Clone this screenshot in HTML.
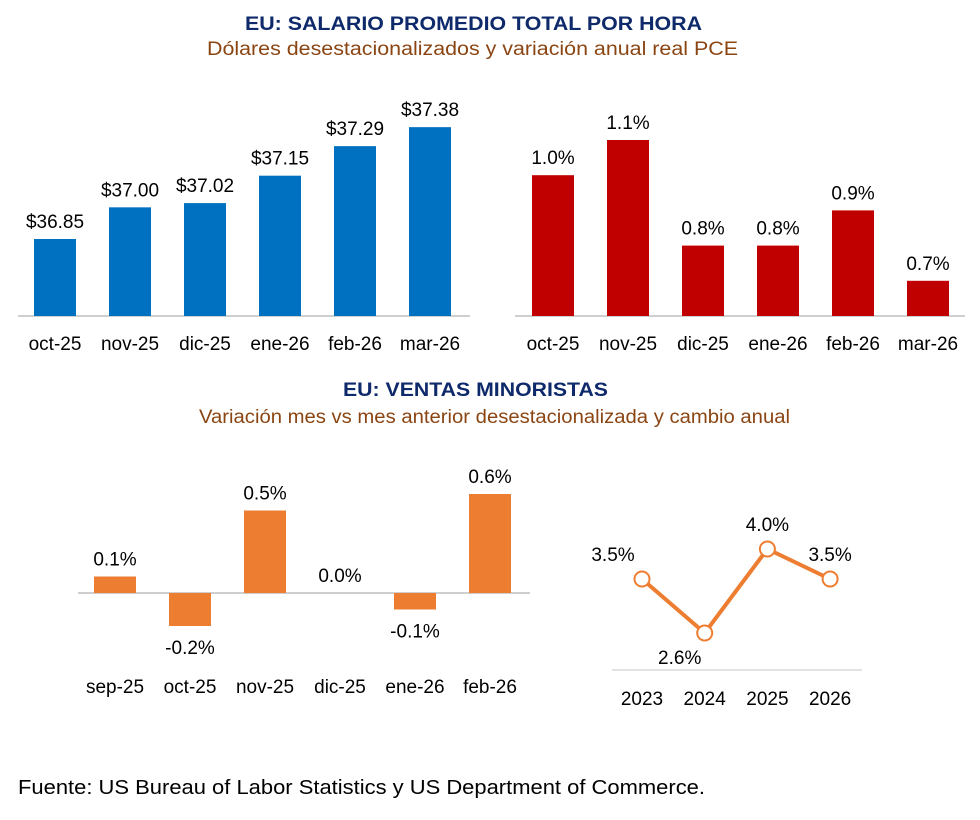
<!DOCTYPE html>
<html><head><meta charset="utf-8"><style>
body{margin:0;background:#fff;width:980px;height:815px;overflow:hidden;font-family:"Liberation Sans",sans-serif}
svg text{font-family:"Liberation Sans",sans-serif}
</style></head><body>
<svg id="s" width="980" height="815">
<text x="245" y="30" textLength="457" lengthAdjust="spacingAndGlyphs" font-size="19" font-weight="bold" fill="#0F2A6B">EU: SALARIO PROMEDIO TOTAL POR HORA</text>
<text x="207" y="55" textLength="531" lengthAdjust="spacingAndGlyphs" font-size="19" fill="#8B4513">Dólares desestacionalizados y variación anual real PCE</text>
<text x="343" y="396" textLength="265" lengthAdjust="spacingAndGlyphs" font-size="19" font-weight="bold" fill="#0F2A6B">EU: VENTAS MINORISTAS</text>
<text x="199" y="423" textLength="591" lengthAdjust="spacingAndGlyphs" font-size="19" fill="#8B4513">Variación mes vs mes anterior desestacionalizada y cambio anual</text>
<text x="18" y="794" textLength="687" lengthAdjust="spacingAndGlyphs" font-size="20" fill="#000">Fuente:  US Bureau of Labor Statistics y US Department of Commerce.</text>
</svg>
<script>
const wageCats=["oct-25","nov-25","dic-25","ene-26","feb-26","mar-26"];
const wageVals=[36.85,37.00,37.02,37.15,37.29,37.38];
const pceCats=["oct-25","nov-25","dic-25","ene-26","feb-26","mar-26"];
const pceVals=[1.0,1.1,0.8,0.8,0.9,0.7];
const retailCats=["sep-25","oct-25","nov-25","dic-25","ene-26","feb-26"];
const retailVals=[0.1,-0.2,0.5,0.0,-0.1,0.6];
const annualCats=["2023","2024","2025","2026"];
const annualVals=[3.5,2.6,4.0,3.5];

const NS="http://www.w3.org/2000/svg";
const svg=document.getElementById('s');
function mk(tag,attrs,txt){const e=document.createElementNS(NS,tag);for(const k in attrs)e.setAttribute(k,attrs[k]);if(txt!==undefined)e.textContent=txt;svg.appendChild(e);return e;}

function barChart(cats,vals,x0,step,baseY,baseVal,scale,color,fmt,axisX1,axisX2,labY,pfx){
  let a=mk('line',{x1:axisX1,x2:axisX2,y1:baseY,y2:baseY,stroke:'#bfbfbf','stroke-width':1.5});
  
  
  cats.forEach((c,i)=>{
    const cx=x0+i*step;
    const y=baseY-(vals[i]-baseVal)*scale;
    const top=Math.min(y,baseY),h=Math.abs(y-baseY);
    let r=mk('rect',{x:cx-21,y:top,width:42,height:h,fill:color});
    
    
    const neg=vals[i]<baseVal;
    let t=mk('text',{x:cx,y:neg?y+28:y-11,'text-anchor':'middle','font-size':19,fill:'#000'},fmt(vals[i]));
    
    
    let l=mk('text',{x:cx,y:labY,'text-anchor':'middle','font-size':19,fill:'#000'},c);
    
    
  });
}
barChart(wageCats,wageVals,55,75,316,36.485,211,'#0070C0',v=>'$'+v.toFixed(2),18,470,350,'wage');
barChart(pceCats,pceVals,553,75,316,0.6,352,'#C00000',v=>v.toFixed(1)+'%',515,965,350,'pce');
barChart(retailCats,retailVals,115,75,593,0,165,'#ED7D31',v=>v.toFixed(1)+'%',78,530,693,'retail');

const lx0=642,lstep=62.7,baseVal=3.5,baseY=579,ls=60;
let ax=mk('line',{x1:612,x2:862,y1:670,y2:670,stroke:'#d9d9d9','stroke-width':1.5});


const pts=annualVals.map((v,i)=>[lx0+i*lstep,baseY-(v-baseVal)*ls]);
let pl=mk('polyline',{points:pts.map(p=>p.join(',')).join(' '),fill:'none',stroke:'#ED7D31','stroke-width':4});


const offs=[[-29,-25],[-25,24],[0,-25],[0,-25]];
pts.forEach((p,i)=>{
  let c=mk('circle',{cx:p[0],cy:p[1],r:7.5,fill:'#fff',stroke:'#ED7D31','stroke-width':2});
  
  
  const o=offs[i]||[0,-25];
  let t=mk('text',{x:p[0]+o[0],y:p[1]+o[1]+7,'text-anchor':'middle','font-size':19,fill:'#000'},annualVals[i].toFixed(1)+'%');
  
  
  let l=mk('text',{x:p[0],y:705,'text-anchor':'middle','font-size':19,fill:'#000'},annualCats[i]);
  
  
});
</script>
</body></html>
